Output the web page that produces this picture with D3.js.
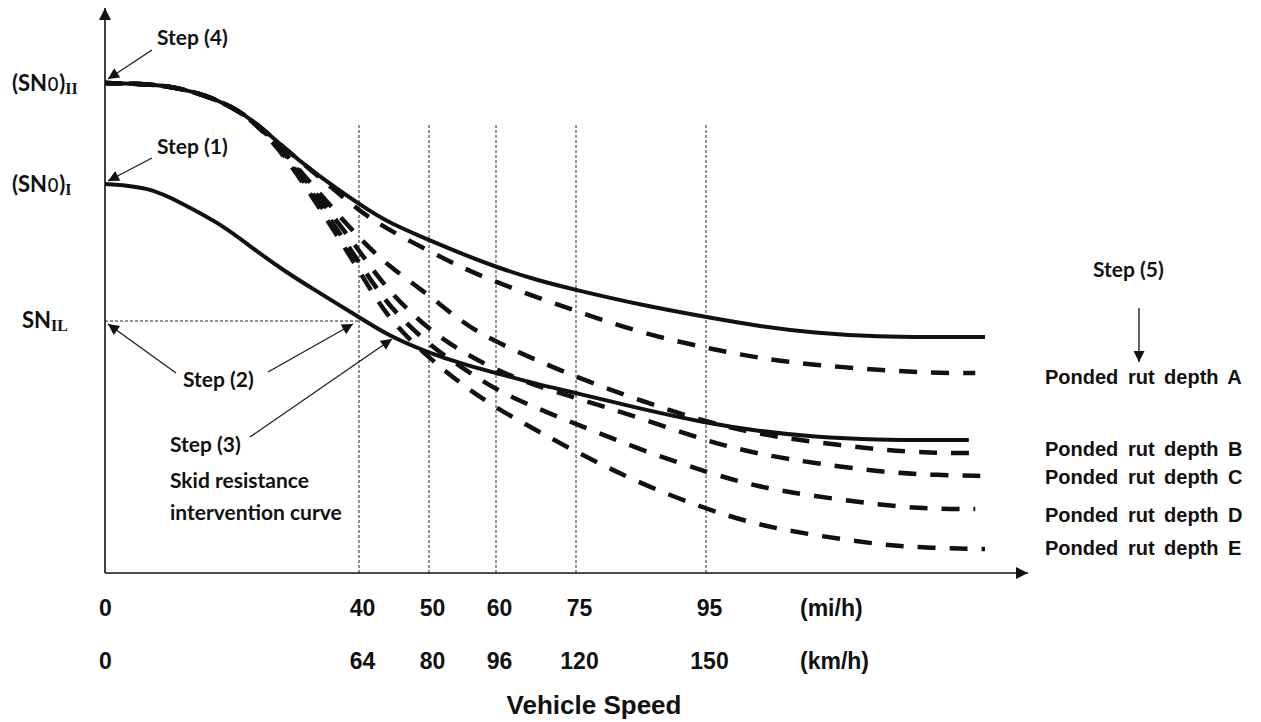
<!DOCTYPE html>
<html>
<head>
<meta charset="utf-8">
<script src="https://cdn.jsdelivr.net/npm/d3@7"></script>
<style>
  body { margin: 0; background: #fff; }
  svg { display: block; }
  .lbl { font-family: "Liberation Sans", Arial, sans-serif; font-weight: bold; fill: #111; }
  .step { font-family: Lato, "Open Sans", sans-serif; font-weight: bold; fill: #111; font-size: 21px; }
</style>
</head>
<body>
<svg id="chart" width="1261" height="722"></svg>
<script>
// speed ticks (mi/h) and matching km/h labels
var tickMph = [0, 40, 50, 60, 75, 95];
var tickKmh = ["0", "64", "80", "96", "120", "150"];
var maxMph = 138;

// skid number levels (arbitrary units, 0..100)
var sn0II = 98;
var sn0I = 77.8;
var snIL = 50.4;
var snIL_speed = 40;

// speeds used by the curves
var speeds = [0, 7, 12, 18, 23, 28, 33, 40, 44, 50, 55, 60, 67.5, 75, 85, 95, 103, 111.5, 122, 129.5];

// solid curves
var curveII = [98, 97.8, 97, 94.6, 91, 85.2, 80, 73.8, 70.2, 66.6, 63.8, 61.2, 58.6, 56.6, 53.6, 51.2, 49.4, 48, 47.2, 47.2];
var curveII_end = [138, 47.2];
var curveI = [77.8, 77.2, 74, 70, 65.2, 60.6, 56.6, 51.2, 47.6, 44, 41.8, 40, 37.8, 36, 32.8, 30, 28.4, 27.2, 26.6, 26.6];
var curveI_end = [135.5, 26.6];

// dashed curves (ponded rut depths)
var rutNames = ["A", "B", "C", "D", "E"];
var rutA = [98, 97.8, 97, 94.6, 91, 85.2, 80, 72.4, 68.8, 64.4, 61, 58.2, 55.2, 52.4, 48, 45, 43, 41.6, 40.6, 40];
var rutB = [98, 97.8, 97, 94.6, 91, 84.6, 77, 67, 61.6, 55.6, 50, 46.2, 42.6, 39.2, 34.4, 30.2, 27.8, 26.2, 24.6, 24];
var rutC = [98, 97.8, 97, 94.6, 91, 84.6, 76.2, 64.6, 56.6, 48.6, 44.2, 40.6, 37.4, 35, 31, 26.4, 23.8, 22, 20.2, 19.6];
var rutD = [98, 97.8, 97, 94.6, 91, 84.2, 75.4, 62.2, 53.6, 45.6, 41, 36.6, 33, 29.8, 24.6, 20.2, 17.2, 15.4, 13.6, 12.8];
var rutE = [98, 97.8, 97, 94.6, 91, 84, 74.6, 60.6, 51, 43, 37.6, 33, 28.6, 24.2, 17.8, 12.8, 9.6, 7.6, 5.6, 5];
var rutEnds = [[136.5, 40], [136.5, 24], [138, 19.4], [136.5, 12.8], [138, 4.8]];

var svg = d3.select("#chart");

// x is drawn stretched between ticks, like the sketch
var x = d3.scaleLinear()
  .domain(tickMph.concat([maxMph]))
  .range([105, 359, 429, 496, 576, 706, 985]);
var y = d3.scaleLinear().domain([0, 100]).range([573, 73]);

var defs = svg.append("defs");
defs.append("marker")
  .attr("id", "arrow")
  .attr("viewBox", "0 0 10 10")
  .attr("refX", 10).attr("refY", 5)
  .attr("markerUnits", "userSpaceOnUse")
  .attr("markerWidth", 13).attr("markerHeight", 11)
  .attr("orient", "auto")
  .append("path").attr("d", "M0,0L10,5L0,10z").attr("fill", "#111");
defs.append("marker")
  .attr("id", "axisArrow")
  .attr("viewBox", "0 0 10 10")
  .attr("refX", 10).attr("refY", 5)
  .attr("markerUnits", "userSpaceOnUse")
  .attr("markerWidth", 15).attr("markerHeight", 12)
  .attr("orient", "auto")
  .append("path").attr("d", "M0,0L10,5L0,10z").attr("fill", "#111");

// vertical guide lines at each speed tick
svg.selectAll(".guide")
  .data(tickMph.slice(1))
  .enter().append("line")
  .attr("class", "guide")
  .attr("x1", d => x(d)).attr("x2", d => x(d))
  .attr("y1", y(0)).attr("y2", 123)
  .attr("stroke", "#222").attr("stroke-width", 1)
  .attr("stroke-dasharray", "3,2");

// SN_IL horizontal guide
svg.append("line")
  .attr("x1", x(0)).attr("x2", x(snIL_speed))
  .attr("y1", y(snIL)).attr("y2", y(snIL))
  .attr("stroke", "#222").attr("stroke-width", 1)
  .attr("stroke-dasharray", "3,2");

// axes lines with arrows
svg.append("line")
  .attr("x1", x(0)).attr("y1", y(0))
  .attr("x2", 1028).attr("y2", y(0))
  .attr("stroke", "#111").attr("stroke-width", 1.6)
  .attr("marker-end", "url(#axisArrow)");
svg.append("line")
  .attr("x1", x(0)).attr("y1", y(0))
  .attr("x2", x(0)).attr("y2", 8)
  .attr("stroke", "#111").attr("stroke-width", 1.6)
  .attr("marker-end", "url(#axisArrow)");

var line = d3.line()
  .x(d => x(d[0]))
  .y(d => y(d[1]))
  .curve(d3.curveBasis);

function pts(vals, end){
  var p = speeds.map((s, i) => [s, vals[i]]);
  p.push(end);
  return p;
}

// solid curves
svg.append("path")
  .attr("d", line(pts(curveII, curveII_end)))
  .attr("fill", "none").attr("stroke", "#111").attr("stroke-width", 4);
svg.append("path")
  .attr("d", line(pts(curveI, curveI_end)))
  .attr("fill", "none").attr("stroke", "#111").attr("stroke-width", 4);

// dashed ponded rut depth curves, drawn over the solid ones
var ruts = [rutA, rutB, rutC, rutD, rutE];
svg.selectAll(".rut")
  .data(ruts)
  .enter().append("path")
  .attr("class", "rut")
  .attr("d", (d, i) => line(pts(d, rutEnds[i])))
  .attr("fill", "none")
  .attr("stroke", "#111")
  .attr("stroke-width", 4.5)
  .attr("stroke-dasharray", "18,14")
  .attr("stroke-dashoffset", (d, i) => i * 2);

// speed axes (two label rows)
var mphAxis = d3.axisBottom(x).tickValues(tickMph).tickSize(0).tickPadding(27);
var kmhAxis = d3.axisBottom(x).tickValues(tickMph).tickSize(0).tickPadding(80)
  .tickFormat((d, i) => tickKmh[i]);
[mphAxis, kmhAxis].forEach(function(ax){
  var g = svg.append("g").attr("transform", "translate(0," + y(0) + ")").call(ax);
  g.select(".domain").remove();
  g.selectAll("text")
    .attr("class", "lbl")
    .attr("font-size", 23)
    .attr("font-family", null)
    .attr("fill", "#111")
    .attr("dx", d => d > 0 ? 3 : 0);
});
svg.append("text").attr("class", "lbl").attr("x", 800).attr("y", 616)
  .attr("font-size", 23).text("(mi/h)");
svg.append("text").attr("class", "lbl").attr("x", 800).attr("y", 669)
  .attr("font-size", 23).text("(km/h)");
svg.append("text").attr("class", "lbl").attr("x", 594).attr("y", 714)
  .attr("font-size", 26).attr("text-anchor", "middle").text("Vehicle Speed");

// y labels with subscripts
function snLabel(yy, sub, withZero, xx){
  var t = svg.append("text").attr("x", xx).attr("y", yy)
    .attr("font-family", "Lato, 'Open Sans', sans-serif").attr("font-weight", "bold")
    .attr("font-size", 22).attr("fill", "#111");
  t.append("tspan").text(withZero ? "(SN" : "SN");
  if (withZero){
    t.append("tspan").attr("font-size", 19).attr("font-weight", "normal")
      .attr("font-family", "'DejaVu Sans', sans-serif").text("0");
    t.append("tspan").text(")");
  }
  t.append("tspan").attr("font-family", "'Liberation Serif', serif")
    .attr("font-weight", "bold").attr("font-size", 16).attr("dy", 3).text(sub);
}
snLabel(y(sn0II) + 8, "II", true, 12);
snLabel(y(sn0I) + 8, "I", true, 12);
snLabel(y(snIL) + 7, "IL", false, 22);

// step annotations
function step(txt, xx, yy){
  svg.append("text").attr("class", "step").attr("x", xx).attr("y", yy).text(txt);
}
function arrow(x1, y1, x2, y2){
  svg.append("line")
    .attr("x1", x1).attr("y1", y1).attr("x2", x2).attr("y2", y2)
    .attr("stroke", "#222").attr("stroke-width", 1.4)
    .attr("marker-end", "url(#arrow)");
}
step("Step (4)", 157, 45);
arrow(152, 50, x(0) + 3, y(sn0II) - 4);
step("Step (1)", 157, 154);
arrow(152, 158, x(0) + 3, y(sn0I) - 3);
step("Step (2)", 183, 387);
arrow(176, 373, x(0) + 3, y(snIL) + 3);
arrow(268, 372, x(snIL_speed) - 6, y(snIL) + 3);
step("Step (3)", 170, 452);
arrow(250, 437, 392, 339);
step("Skid resistance", 170, 488);
step("intervention curve", 170, 520);
step("Step (5)", 1093, 277);
arrow(1139, 308, 1139, 362);

// rut depth labels
var rutLabelY = [384, 456, 484, 522, 555];
svg.selectAll(".rutLbl")
  .data(rutNames)
  .enter().append("text")
  .attr("class", "lbl rutLbl")
  .attr("x", 1045)
  .attr("y", (d, i) => rutLabelY[i])
  .attr("font-size", 20)
  .attr("word-spacing", 4)
  .text(d => "Ponded rut depth " + d);
</script>
</body>
</html>
